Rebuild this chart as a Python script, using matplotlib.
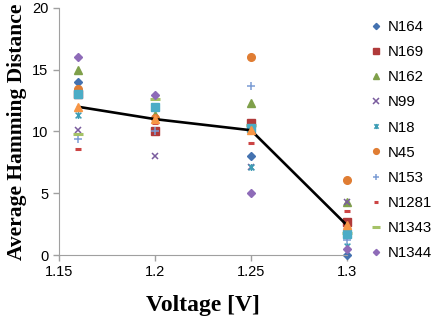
import matplotlib
matplotlib.use('Agg')
import matplotlib.pyplot as plt
from matplotlib.path import Path

voltage = [1.16, 1.2, 1.25, 1.3]

series_names = ['N164', 'N169', 'N162', 'N99', 'N18', 'N45', 'N153', 'N1281', 'N1343', 'N1344']
n164 = [14.0, 10.0, 8.0, 0.0]
n169 = [13.0, 10.0, 10.7, 2.65]
n162 = [15.0, 11.3, 12.3, 4.3]
n99 = [10.1, 8.0, 7.1, 4.3]
n18 = [11.3, 12.0, 7.1, 0.7]
n45 = [13.4, 11.1, 16.0, 6.1]
n153 = [9.4, 10.0, 13.7, 1.2]
n1281 = [8.6, 10.7, 9.1, 3.6]
n1343 = [9.8, 12.6, 10.5, 1.8]
n1344 = [16.0, 12.95, 5.0, 0.45]
# two unlabelled series (not in the legend)
extra = [13.0, 12.0, 10.3, 1.7]
average = [12.0, 11.0, 10.1, 2.4]

series_values = [n164, n169, n162, n99, n18, n45, n153, n1281, n1343, n1344]

# Excel-like star marker: x with a vertical bar
star = Path([(-1, -1), (1, 1), (-1, 1), (1, -1), (0, -1.2), (0, 1.2)],
            [Path.MOVETO, Path.LINETO, Path.MOVETO, Path.LINETO, Path.MOVETO, Path.LINETO])

styles = [
    dict(marker='D', color='#4472B0', ms=4.2),
    dict(marker='s', color='#B03A3A', ms=5.2),
    dict(marker='^', color='#7FA04A', ms=6),
    dict(marker='x', color='#7A5C9E', ms=5, mew=1.1),
    dict(marker=star, color='#3D9DB5', ms=5, mew=1.1),
    dict(marker='o', color='#E07D33', ms=5.5),
    dict(marker='+', color='#7C9DD4', ms=6, mew=1.1),
    dict(marker='_', color='#CC4444', ms=4, mew=2.2),
    dict(marker='_', color='#A5C267', ms=7, mew=2.2),
    dict(marker='D', color='#8E6BB8', ms=4.2),
]

plt.rcParams['font.family'] = 'Liberation Sans'
fig = plt.figure(figsize=(4.36, 3.19), dpi=100)
ax = fig.add_axes([0.1353, 0.2006, 0.6606, 0.7744])

for name, vals, st in zip(series_names, series_values, styles):
    ax.plot(voltage, vals, linestyle='none', marker=st['marker'], color=st['color'],
            markersize=st['ms'], markeredgewidth=st.get('mew', 1.0), label=name, clip_on=False)

ax.plot(voltage, extra, linestyle='none', marker='s', color='#4BACC6', markersize=5.2, clip_on=False)
ax.plot(voltage, average, color='black', linewidth=1.9, clip_on=False)
ax.plot(voltage, average, linestyle='none', marker='^', color='#F79646', markersize=5.5, clip_on=False)

ax.set_xlim(1.15, 1.3)
ax.set_ylim(0, 20)
ax.set_xticks([1.15, 1.2, 1.25, 1.3])
ax.set_xticklabels(['1.15', '1.2', '1.25', '1.3'])
ax.set_yticks([0, 5, 10, 15, 20])
ax.tick_params(axis='both', labelsize=10.5, color='#A0A0A0', length=4, width=1, direction='out')
for side in ['top', 'right']:
    ax.spines[side].set_visible(False)
for side in ['left', 'bottom']:
    ax.spines[side].set_color('#A0A0A0')

ax.set_xlabel('Voltage [V]', fontsize=17, fontweight='bold', family='Liberation Serif', labelpad=11)
ax.set_ylabel('Average Hamming Distance', fontsize=15.5, fontweight='bold', family='Liberation Serif', labelpad=4)

ax.legend(loc='upper left', bbox_to_anchor=(1.06, 0.975), frameon=False, fontsize=10.8,
          markerscale=0.75, handlelength=0.7, handletextpad=0.45, labelspacing=0.74, borderaxespad=0)

fig.savefig('out.png', dpi=100)
